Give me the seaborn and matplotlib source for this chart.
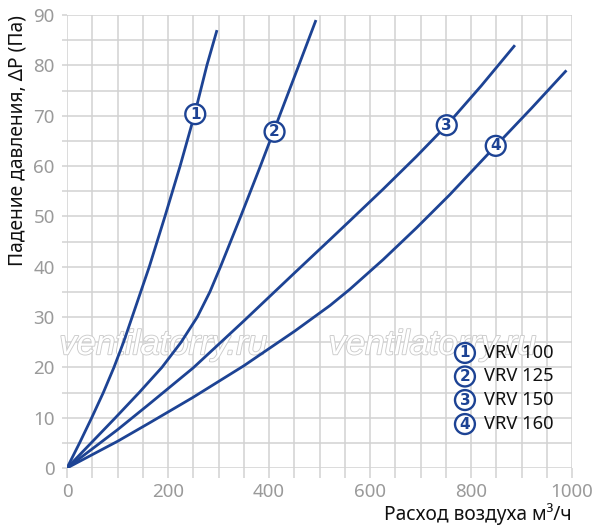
import matplotlib
matplotlib.use("Agg")
import matplotlib.pyplot as plt
import matplotlib.patheffects as pe
from matplotlib.ticker import MultipleLocator
import pandas as pd
import seaborn as sns

# ---- data ----
models = ["VRV 100", "VRV 125", "VRV 150", "VRV 160"]
labels = ["1", "2", "3", "4"]

x_vrv100 = [0, 25, 49, 72, 93, 112, 129, 146, 163, 194, 224, 252, 277, 297]
y_vrv100 = [0, 5, 10, 15, 20, 25, 30, 35, 40, 50, 60, 70, 80, 87]

x_vrv125 = [0, 48, 96, 143, 188, 226, 258, 283, 304, 344, 383, 421, 459, 493]
y_vrv125 = [0, 5, 10, 15, 20, 25, 30, 35, 40, 50, 60, 70, 80, 89]

x_vrv150 = [0, 100, 164, 250, 350, 451, 521, 560, 626, 692, 752, 820, 887]
y_vrv150 = [0, 7.6, 12.8, 19.9, 29.2, 38.8, 45.4, 49.1, 55.4, 61.9, 68.1, 75.9, 84]

x_vrv160 = [0, 100, 164, 249, 350, 451, 521, 560, 626, 692, 758, 849, 920, 989]
y_vrv160 = [0, 5.3, 9.0, 14.0, 20.3, 27.2, 32.3, 35.5, 41.4, 47.7, 54.3, 64, 71.5, 79]

# circled-number label positions on each curve
label_x = [254, 411, 752, 849]
label_y = [70.3, 66.8, 68.1, 64]

xticks = [0, 200, 400, 600, 800, 1000]
yticks = [0, 10, 20, 30, 40, 50, 60, 70, 80, 90]

xlabel = "Расход воздуха м³/ч"
ylabel = "Падение давления, ΔP (Па)"
watermark = "ventilatorry.ru"

# ---- build long table ----
frames = []
for name, xs, ys in zip(models,
                        [x_vrv100, x_vrv125, x_vrv150, x_vrv160],
                        [y_vrv100, y_vrv125, y_vrv150, y_vrv160]):
    frames.append(pd.DataFrame({"flow": xs, "dp": ys, "model": name}))
df = pd.concat(frames, ignore_index=True)

sns.set_theme(style="white")
plt.rcParams["font.family"] = ["Noto Sans", "DejaVu Sans"]

BLUE = "#1d4394"
GRID = "#d2d2d2"
TICKC = "#9a9a9a"

fig = plt.figure(figsize=(5.97, 5.29), dpi=100)
ax = fig.add_axes([67 / 597, 61 / 529, 505 / 597, 453 / 529])

sns.lineplot(data=df, x="flow", y="dp", hue="model",
             palette=[BLUE] * 4, linewidth=2.0, legend=False, ax=ax,
             sort=True, zorder=3)
for ln in ax.get_lines():
    ln.set_solid_joinstyle("round")
    ln.set_solid_capstyle("butt")

ax.set_xlim(0, 1000)
ax.set_ylim(0, 90)
ax.set_xticks(xticks)
ax.set_yticks(yticks)
ax.xaxis.set_minor_locator(MultipleLocator(50))
ax.yaxis.set_minor_locator(MultipleLocator(5))
ax.grid(True, which="both", color=GRID, linewidth=1.1, zorder=0)
ax.set_axisbelow(True)
for s in ax.spines.values():
    s.set_visible(False)
ax.tick_params(axis="both", which="both", color=GRID, width=1.1,
               labelcolor=TICKC, labelsize=13.5)
ax.tick_params(axis="x", which="both", length=7, pad=4, bottom=True)
ax.tick_params(axis="y", which="both", length=3.8, pad=5, left=True)

ax.set_xlabel(xlabel, fontsize=13.8, color="#111111", loc="right", labelpad=1)
ax.set_ylabel(ylabel, fontsize=13.8, color="#111111", loc="top", labelpad=4)

circ = dict(boxstyle="circle,pad=0.16", fc="white", ec=BLUE, lw=1.7)

# circled labels on curves
for lab, lx, ly in zip(labels, label_x, label_y):
    ax.text(lx, ly, lab, ha="center", va="center", fontsize=11,
            fontweight="bold", color=BLUE, zorder=5, family=["DejaVu Sans"],
            bbox=circ)

# legend block
leg_y = [0.254, 0.202, 0.150, 0.097]
for lab, name, yy in zip(labels, models, leg_y):
    ax.text(0.788, yy, lab, transform=ax.transAxes, ha="center", va="center",
            fontsize=11, fontweight="bold", color=BLUE, zorder=5,
            family=["DejaVu Sans"], bbox=circ)
    ax.text(0.825, yy, name, transform=ax.transAxes, ha="left", va="center",
            fontsize=13.2, color="#111111", zorder=5)

# watermark
for wx in [0.191, 0.724]:
    ax.text(wx, 0.272, watermark, transform=ax.transAxes, ha="center",
            va="center", fontsize=25, style="italic", color="white",
            family=["Liberation Sans"], zorder=2,
            path_effects=[pe.withStroke(linewidth=1.3, foreground="#cccccc")])

fig.savefig("out.png", dpi=100)
